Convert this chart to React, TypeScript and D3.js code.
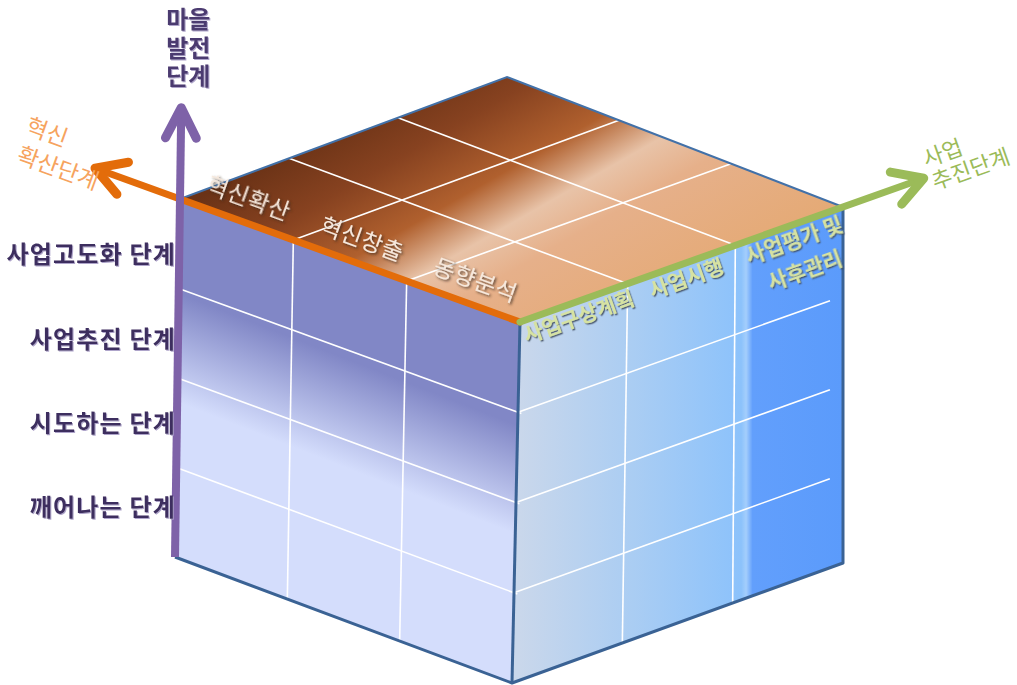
import React from "react";
import * as d3 from "d3";

// ---------- data ----------
const developmentStages = ["깨어나는 단계", "시도하는 단계", "사업추진 단계", "사업고도화 단계"]; // bottom → top
const innovationStages = ["동향분석", "혁신창출", "혁신확산"]; // front → left
const projectStages = [["사업구상계획"], ["사업시행"], ["사업평가 및", "사후관리"]]; // front → right
const verticalAxisTitle = ["마을", "발전", "단계"];
const innovationAxisTitle = ["혁신", "확산단계"];
const projectAxisTitle = ["사업", "추진단계"];

// ---------- layout ----------
const W = 1017;
const H = 685;
type P = [number, number];
const frontTop: P = [520, 322];
const leftTop: P = [180, 199];
const backTop: P = [507, 77];
const rightTop: P = [843, 207];
const frontBottom: P = [512, 683];
const leftBottom: P = [175, 557];
const rightBottom: P = [843, 563];

const FONT = "'Noto Sans CJK KR', 'Noto Sans', sans-serif";
const TITLE_FONT = "Roboto, 'Noto Sans CJK KR', sans-serif";

const lerp = (a: P, b: P, t: number): P => [a[0] + (b[0] - a[0]) * t, a[1] + (b[1] - a[1]) * t];
const bilinear = (p00: P, p10: P, p11: P, p01: P) => (u: number, v: number): P =>
  lerp(lerp(p00, p10, u), lerp(p01, p11, u), v);

const lineGen = d3.line<P>();
const poly = (pts: P[]) => (lineGen(pts) as string) + "Z";

const unit = (a: P, b: P): P => {
  const dx = b[0] - a[0], dy = b[1] - a[1];
  const l = Math.hypot(dx, dy);
  return [dx / l, dy / l];
};
const rot = (v: P, ang: number): P => [v[0] * Math.cos(ang) - v[1] * Math.sin(ang), v[0] * Math.sin(ang) + v[1] * Math.cos(ang)];

function arrowPath(start: P, tip: P, len = 34, angDeg = 30) {
  const u = unit(tip, start);
  const a = (angDeg * Math.PI) / 180;
  const r1 = rot(u, a), r2 = rot(u, -a);
  const arm1: P = [tip[0] + r1[0] * len, tip[1] + r1[1] * len];
  const arm2: P = [tip[0] + r2[0] * len, tip[1] + r2[1] * len];
  return {
    shaft: lineGen([start, tip]) as string,
    head: lineGen([arm1, tip, arm2]) as string,
  };
}

export default function App() {
  const topFace = bilinear(frontTop, leftTop, backTop, rightTop);
  const leftFace = bilinear(leftTop, frontTop, frontBottom, leftBottom);
  const rightFace = bilinear(frontTop, rightTop, rightBottom, frontBottom);

  const innovScale = d3.scaleBand<string>().domain(innovationStages).range([0, 1]);
  const projKeys = projectStages.map((d) => d.join(" "));
  const projScale = d3.scaleBand<string>().domain(projKeys).range([0, 1]);
  const devScale = d3.scaleBand<string>().domain(developmentStages).range([1, 0]);

  const innovBounds = innovationStages.map((d) => innovScale(d) as number).filter((x) => x > 0.001 && x < 0.999);
  const projBounds = projKeys.map((d) => projScale(d) as number).filter((x) => x > 0.001 && x < 0.999);
  const devBounds = developmentStages.map((d) => devScale(d) as number).filter((x) => x > 0.001 && x < 0.999);

  const labelY = d3.scalePoint<string>().domain(developmentStages).range([508, 255]);

  const purpleTip = lerp(leftBottom, leftTop, 1.255);
  const orangeTip = lerp(frontTop, leftTop, 1.25);
  const greenTip = lerp(frontTop, rightTop, 1.25);
  const purple = arrowPath(leftBottom, purpleTip, 34, 27);
  const orange = arrowPath(frontTop, orangeTip, 34, 30);
  const green = arrowPath(frontTop, greenTip, 34, 30);

  const angTop = (Math.atan2(frontTop[1] - leftTop[1], frontTop[0] - leftTop[0]) * 180) / Math.PI;
  const angRight = (Math.atan2(rightTop[1] - frontTop[1], rightTop[0] - frontTop[0]) * 180) / Math.PI;

  const readTop = unit(leftTop, frontTop);
  const upTop: P = [readTop[1], -readTop[0]];
  const readRight = unit(frontTop, rightTop);
  const downRight: P = [-readRight[1], readRight[0]];

  const white = "#ffffff";

  return (
    <svg width={W} height={H} style={{ position: "absolute", left: 0, top: 0, display: "block", background: "#fff" }}>
      <defs>
        <linearGradient id="gTop" gradientUnits="userSpaceOnUse" x1={440} y1={60} x2={600} y2={340}>
          <stop offset="0" stopColor="#6a3216" />
          <stop offset="0.2" stopColor="#874220" />
          <stop offset="0.4" stopColor="#b0602e" />
          <stop offset="0.55" stopColor="#e8c3a8" />
          <stop offset="0.68" stopColor="#e6b08a" />
          <stop offset="1" stopColor="#e5aa76" />
        </linearGradient>
        <linearGradient id="gLeft" gradientUnits="userSpaceOnUse" x1={183} y1={295} x2={146} y2={390}>
          <stop offset="0" stopColor="#8187c6" />
          <stop offset="1" stopColor="#d4ddfc" />
        </linearGradient>
        <linearGradient id="gRight" gradientUnits="userSpaceOnUse" x1={520} y1={0} x2={843} y2={0}>
          <stop offset="0" stopColor="#c9d7eb" />
          <stop offset="0.35" stopColor="#aacdf3" />
          <stop offset="0.685" stopColor="#8cc2fb" />
          <stop offset="0.7" stopColor="#a4cefc" />
          <stop offset="0.72" stopColor="#629ffc" />
          <stop offset="1" stopColor="#5b9bfb" />
        </linearGradient>
        <filter id="shDark" x="-20%" y="-40%" width="140%" height="180%">
          <feDropShadow dx="1.5" dy="1.5" stdDeviation="0.8" floodColor="#3a2a20" floodOpacity="0.8" />
        </filter>
        <filter id="shBlue" x="-20%" y="-40%" width="140%" height="180%">
          <feDropShadow dx="1.3" dy="1.3" stdDeviation="0.7" floodColor="#404e62" floodOpacity="0.85" />
        </filter>
        <filter id="shLight" x="-20%" y="-40%" width="140%" height="180%">
          <feDropShadow dx="1" dy="1" stdDeviation="0.6" floodColor="#a69ac4" floodOpacity="0.9" />
        </filter>
      </defs>

      {/* faces */}
      <path d={poly([frontTop, leftTop, backTop, rightTop])} fill="url(#gTop)" />
      <path d={poly([leftTop, frontTop, frontBottom, leftBottom])} fill="url(#gLeft)" />
      <path d={poly([frontTop, rightTop, rightBottom, frontBottom])} fill="url(#gRight)" />

      {/* grid lines */}
      <g stroke={white} strokeWidth={1.6} fill="none">
        {innovBounds.map((u, i) => (
          <path key={"ti" + i} d={lineGen([topFace(u, 0), topFace(u, 1)]) as string} />
        ))}
        {projBounds.map((v, i) => (
          <path key={"tp" + i} d={lineGen([topFace(0, v), topFace(1, v)]) as string} />
        ))}
        {innovBounds.map((u, i) => (
          <path key={"lc" + i} d={lineGen([leftFace(1 - u, 0), leftFace(1 - u, 1)]) as string} />
        ))}
        {devBounds.map((v, i) => (
          <path key={"lr" + i} d={lineGen([leftFace(0, v), leftFace(1.01, v)]) as string} />
        ))}
        {projBounds.map((u, i) => (
          <path key={"rc" + i} d={lineGen([rightFace(u, 0), rightFace(u, 1)]) as string} />
        ))}
        {devBounds.map((v, i) => (
          <path key={"rr" + i} d={lineGen([rightFace(0, v), rightFace(0.96, v)]) as string} />
        ))}
      </g>

      {/* edges */}
      <path d={lineGen([leftTop, backTop, rightTop]) as string} stroke="#4271a8" strokeWidth={2} fill="none" />
      <path
        d={lineGen([leftBottom, frontBottom, rightBottom, rightTop]) as string}
        stroke="#3a6294"
        strokeWidth={3}
        fill="none"
        strokeLinejoin="round"
      />
      <path d={lineGen([frontTop, frontBottom]) as string} stroke="#3a6294" strokeWidth={3} fill="none" />

      {/* axes */}
      <g fill="none" strokeLinecap="round" strokeLinejoin="round">
        <path d={orange.shaft} stroke="#e36c0a" strokeWidth={7} />
        <path d={orange.head} stroke="#e36c0a" strokeWidth={9} />
        <path d={green.shaft} stroke="#9bbb59" strokeWidth={7} />
        <path d={green.head} stroke="#9bbb59" strokeWidth={9} />
        <path d={purple.shaft} stroke="#7e62a8" strokeWidth={8} strokeLinecap="butt" />
        <path d={purple.head} stroke="#7e62a8" strokeWidth={9} />
      </g>

      {/* top face labels */}
      <g fontFamily={FONT} fontSize={23} fill="#f6e8dc" filter="url(#shDark)" textAnchor="middle" letterSpacing={0.5}>
        {innovationStages.map((s) => {
          const c = (innovScale(s) as number) + innovScale.bandwidth() / 2;
          const base = topFace(c, 0);
          const x = base[0] + upTop[0] * 24 + readTop[0] * 4;
          const y = base[1] + upTop[1] * 24 + readTop[1] * 4;
          return (
            <text key={s} transform={`translate(${x},${y}) rotate(${angTop})`} dy="0.35em">
              {s}
            </text>
          );
        })}
      </g>

      {/* right face labels */}
      <g fontFamily={FONT} fontSize={21} fontWeight={600} fill="#d6e2a2" filter="url(#shBlue)" textAnchor="middle">
        {projectStages.map((lines, i) => {
          const key = projKeys[i];
          const c = (projScale(key) as number) + projScale.bandwidth() / 2;
          const base = rightFace(c, 0);
          const x = base[0] + downRight[0] * 15;
          const y = base[1] + downRight[1] * 15;
          return (
            <text key={key} transform={`translate(${x},${y}) rotate(${angRight})`}>
              {lines.map((l, j) => (
                <tspan key={l} x={0} dy={j === 0 ? "0.35em" : 32}>
                  {l}
                </tspan>
              ))}
            </text>
          );
        })}
      </g>

      {/* vertical stage labels */}
      <g
        fontFamily={FONT}
        fontSize={24}
        fontWeight={700}
        fill="#3d2f5e"
        filter="url(#shLight)"
        textAnchor="end"
        letterSpacing={1.2}
      >
        {developmentStages.map((s) => (
          <text key={s} x={176} y={labelY(s)} dy="0.35em">
            {s}
          </text>
        ))}
      </g>

      {/* axis titles */}
      <g fontFamily={TITLE_FONT} fontSize={24} fontWeight={700} fill="#4b3a70" filter="url(#shLight)" textAnchor="middle">
        {verticalAxisTitle.map((t, i) => (
          <text key={t} x={purpleTip[0] + 7} y={20 + i * 28.5} dy="0.35em">
            {t}
          </text>
        ))}
      </g>
      <g fontFamily={FONT} fontSize={23} fill="#f6a35e" textAnchor="middle">
        <text transform={`translate(${orangeTip[0] - 48},${orangeTip[1] - 36}) rotate(${angTop})`} dy="0.35em">
          {innovationAxisTitle[0]}
        </text>
        <text transform={`translate(${orangeTip[0] - 37},${orangeTip[1]}) rotate(${angTop})`} dy="0.35em">
          {innovationAxisTitle[1]}
        </text>
      </g>
      <g fontFamily={FONT} fontSize={22} fill="#9bbb59" textAnchor="middle">
        <text transform={`translate(${greenTip[0] + 19},${greenTip[1] - 25}) rotate(${angRight})`} dy="0.35em">
          {projectAxisTitle[0]}
        </text>
        <text transform={`translate(${greenTip[0] + 47},${greenTip[1] - 9}) rotate(${angRight})`} dy="0.35em">
          {projectAxisTitle[1]}
        </text>
      </g>
    </svg>
  );
}
